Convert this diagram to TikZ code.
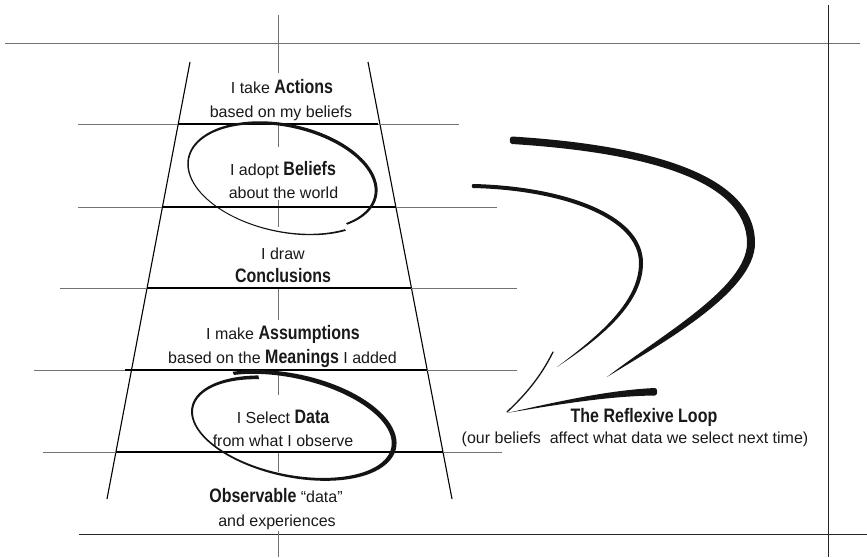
\documentclass[tikz,border=0pt]{standalone}
\usepackage{fontspec}
\setmainfont{Liberation Sans}[BoldFeatures={FakeStretch=0.82}]
\newcommand{\kw}[1]{{\fontsize{19.5}{21}\selectfont\bfseries #1}}

\begin{document}
\begin{tikzpicture}[x=1pt, y=-1pt, line width=1pt,
  every node/.style={font=\fontsize{16}{19}\selectfont, text=black!90, inner sep=0pt, anchor=base},
  guide/.style={black!55, line width=0.9pt},
  rung/.style={black, line width=1.1pt},
  frame/.style={black!85, line width=1pt},
  ink/.style={black!92},
  declare function={
    elx(\t,\a,\b)=\a*cos(\t)*cos(12)-\b*sin(\t)*sin(12);
    ely(\t,\a,\b)=\a*cos(\t)*sin(12)+\b*sin(\t)*cos(12);
    tk(\t)=0.95+0.08*(40-\t)/355;  tw(\t)=1.1+0.6*cos(\t+60);
    bk(\t)=1.0-0.1*(\t+128)/373;   bw(\t)=0.85+0.85*(1+cos(\t+40));
  }]
  \useasboundingbox (0,0) rectangle (867,557);
  % Frame lines
  \draw[guide] (5,43) -- (860,43);
  \draw[frame] (828,5) -- (828,557);
  \draw[frame] (79,534) -- (867,534);
  % Centre guide, broken by the texts
  \draw[guide] (278,15) -- (278,73);
  \draw[guide] (278,122) -- (278,147);
  \draw[guide] (278,200) -- (278,227);
  \draw[guide] (278,287) -- (278,320);
  \draw[guide] (278,371) -- (278,395);
  \draw[guide] (278,452) -- (278,472);
  \draw[guide] (278,531) -- (278,557);
  % Ladder sides
  \draw[rung] (190,62) -- (107,499);
  \draw[rung] (368,62) -- (452,499);
  % Rungs -- grey guide, black part inside the ladder
  \draw[guide] (78,124) -- (459,124);
  \draw[rung] (178,124) -- (378,124);
  \draw[guide] (78,207) -- (497,207);
  \draw[rung] (162,207) -- (396,207);
  \draw[guide] (60,288) -- (517,288);
  \draw[rung] (147,288) -- (411,288);
  \draw[guide] (34,370) -- (517,370);
  \draw[rung] (125,370) -- (427,370);
  \draw[guide] (43,452) -- (502,452);
  \draw[rung] (116,452) -- (443,452);
  % Texts on the rungs
  \node (actA) at (282,93) {I take \kw{Actions}};
  \node (actB) at (281,117) {based on my beliefs};
  \node (belA) at (283,175) {I adopt \kw{Beliefs}};
  \node (belB) at (283.5,198) {about the world};
  \node (conA) at (283,259) {I draw};
  \node (conB) at (283,282) {\kw{Conclusions}};
  \node (assA) at (283,339) {I make \kw{Assumptions}};
  \node (assB) at (282.5,363) {based on the \kw{Meanings} I added};
  \node (datA) at (283,423) {I Select \kw{Data}};
  \node (datB) at (283,446) {from what I observe};
  \node (obsA) at (276,502) {\kw{Observable} “data”};
  \node (obsB) at (277,526) {and experiences};
  % Hand drawn loops round Beliefs and Data
  \fill[ink] plot[smooth, samples=100, domain=40:-315]
      ({284+elx(\x,tk(\x)*97.4+tw(\x),tk(\x)*53+tw(\x))}, {177.5+ely(\x,tk(\x)*97.4+tw(\x),tk(\x)*53+tw(\x))})
    -- plot[smooth, samples=100, domain=-315:40]
      ({284+elx(\x,tk(\x)*97.4-tw(\x),tk(\x)*53-tw(\x))}, {177.5+ely(\x,tk(\x)*97.4-tw(\x),tk(\x)*53-tw(\x))})
    -- cycle;
  \fill[ink] plot[smooth, samples=100, domain=-128:245]
      ({290.5+elx(\x,bk(\x)*109+bw(\x),bk(\x)*51.5+bw(\x))}, {427+ely(\x,bk(\x)*109+bw(\x),bk(\x)*51.5+bw(\x))})
    -- plot[smooth, samples=100, domain=245:-128]
      ({290.5+elx(\x,bk(\x)*109-bw(\x),bk(\x)*51.5-bw(\x))}, {427+ely(\x,bk(\x)*109-bw(\x),bk(\x)*51.5-bw(\x))})
    -- cycle;
  % The reflexive loop arrow
  \fill[ink] (512,136.5) .. controls (641,144.5) and (755,172) .. (755,243)
    .. controls (755,292) and (662,343) .. (607,377)
    .. controls (658,337) and (747,288) .. (747,243)
    .. controls (747,178) and (639,152) .. (512,144)
    to[out=180, in=180] (512,136.5) -- cycle;
  \fill[ink] (473,184) .. controls (560,186) and (643,213) .. (643,263)
    .. controls (643,306) and (596,341) .. (557,367)
    .. controls (594,339) and (639,304) .. (639,263)
    .. controls (639,217) and (560,190) .. (473,188)
    to[out=180, in=180] (473,184) -- cycle;
  \draw[ink, line width=1.3pt, line cap=round] (553,352) .. controls (540,378) and (525,395) .. (507,412);
  \fill[ink] (507,413) .. controls (560,401) and (610,390) .. (655,388)
    to[out=0, in=0] (655,395.5) .. controls (610,396) and (560,404) .. (507,413) -- cycle;
  \node (loopA) at (644,422) {\kw{The Reflexive Loop}};
  \node (loopB) at (635,443) {(our beliefs~ affect what data we select next time)};
\end{tikzpicture}
\end{document}
